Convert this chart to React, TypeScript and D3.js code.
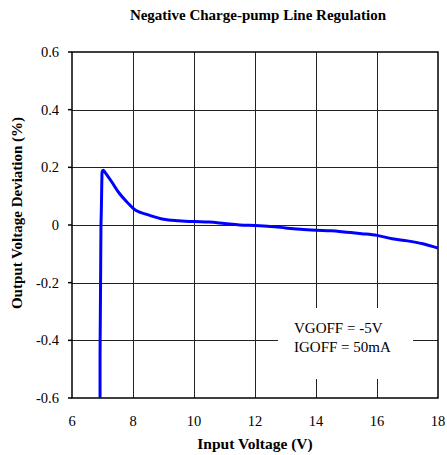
import React, { useEffect, useRef } from "react";
import * as d3 from "d3";

const inputV = [6.92, 6.92, 6.93, 6.94, 6.95, 6.96, 6.97, 6.98, 6.99, 7.02, 7.1, 7.3, 7.55, 7.8, 8.1, 8.5, 9.0, 9.5, 10.0, 10.5, 11.0, 11.5, 12.0, 12.5, 13.0, 13.5, 14.0, 14.5, 15.0, 15.5, 16.0, 16.5, 17.0, 17.5, 18.0];
const deviation = [-0.6, -0.45, -0.3, -0.15, 0.0, 0.04, 0.1, 0.16, 0.185, 0.19, 0.18, 0.15, 0.11, 0.08, 0.05, 0.035, 0.02, 0.015, 0.012, 0.01, 0.005, 0.0, -0.002, -0.005, -0.01, -0.015, -0.018, -0.02, -0.025, -0.03, -0.036, -0.048, -0.055, -0.065, -0.08];
const xTicks = [6, 8, 10, 12, 14, 16, 18];
const yTicks = [-0.6, -0.4, -0.2, 0, 0.2, 0.4, 0.6];
const noteLines = ["VGOFF = -5V", "IGOFF = 50mA"];

const W = 447, H = 455;
const m = { left: 72, right: 9, top: 52, bottom: 57 };
const serif = "'Liberation Serif', 'Times New Roman', serif";

const App = () => {
    const ref = useRef<SVGSVGElement>(null);

    useEffect(() => {
        if (!ref.current) return;
        const svg = d3.select(ref.current);
        svg.selectAll("*").remove();

        const x = d3.scaleLinear().domain([6, 18]).range([m.left, W - m.right]);
        const y = d3.scaleLinear().domain([-0.6, 0.6]).range([H - m.bottom, m.top]);

        svg.append("rect").attr("width", W).attr("height", H).attr("fill", "#fff");

        // grid
        const grid = svg.append("g").attr("stroke", "#222").attr("stroke-width", 1);
        grid.selectAll("line.v").data(xTicks.slice(1, -1)).join("line")
            .attr("class", "v")
            .attr("x1", d => Math.round(x(d)) + 0.5).attr("x2", d => Math.round(x(d)) + 0.5)
            .attr("y1", y(0.6)).attr("y2", y(-0.6));
        grid.selectAll("line.h").data(yTicks.slice(1, -1)).join("line")
            .attr("class", "h")
            .attr("x1", x(6)).attr("x2", x(18))
            .attr("y1", d => Math.round(y(d)) + 0.5).attr("y2", d => Math.round(y(d)) + 0.5);

        // frame
        svg.append("rect")
            .attr("x", x(6)).attr("y", y(0.6))
            .attr("width", x(18) - x(6)).attr("height", y(-0.6) - y(0.6))
            .attr("fill", "none").attr("stroke", "#000").attr("stroke-width", 1.5);

        // y ticks (small outward marks)
        svg.append("g").selectAll("line").data(yTicks).join("line")
            .attr("x1", x(6) - 4).attr("x2", x(6))
            .attr("y1", d => y(d)).attr("y2", d => y(d))
            .attr("stroke", "#000").attr("stroke-width", 1.5);

        // legend box
        const bx = 278, by = 308, bw = 135, bh = 71;
        svg.append("rect").attr("x", bx).attr("y", by).attr("width", bw).attr("height", bh).attr("fill", "#fff");
        svg.append("g").selectAll("text").data(noteLines).join("text")
            .attr("x", 294).attr("y", (d, i) => 333 + i * 19)
            .attr("font-family", serif).attr("font-size", 15)
            .text(d => d);

        // curve
        const pts = inputV.map((v, i) => [v, deviation[i]] as [number, number]);
        svg.append("path")
            .datum(pts)
            .attr("fill", "none").attr("stroke", "#0000ff").attr("stroke-width", 3)
            .attr("stroke-linejoin", "round").attr("stroke-linecap", "butt")
            .attr("d", d3.line<[number, number]>().x(d => x(d[0])).y(d => y(d[1])).curve(d3.curveCatmullRom.alpha(0.5)));

        // tick labels
        svg.append("g").selectAll("text").data(yTicks).join("text")
            .attr("x", 59).attr("y", d => y(d) + 5)
            .attr("text-anchor", "end")
            .attr("font-family", serif).attr("font-size", 14.5)
            .text(d => (d === 0 ? "0" : d.toFixed(1)));
        svg.append("g").selectAll("text").data(xTicks).join("text")
            .attr("x", d => x(d)).attr("y", 426)
            .attr("text-anchor", "middle")
            .attr("font-family", serif).attr("font-size", 14.5)
            .text(d => d);

        // titles
        svg.append("text")
            .attr("x", 258).attr("y", 20).attr("text-anchor", "middle")
            .attr("font-family", serif).attr("font-size", 15).attr("font-weight", "bold")
            .text("Negative Charge-pump Line Regulation");
        svg.append("text")
            .attr("x", 255).attr("y", 449).attr("text-anchor", "middle")
            .attr("font-family", serif).attr("font-size", 15.5).attr("font-weight", "bold")
            .text("Input Voltage (V)");
        svg.append("text")
            .attr("transform", `translate(22, ${y(0) - 12}) rotate(-90)`)
            .attr("text-anchor", "middle")
            .attr("font-family", serif).attr("font-size", 15).attr("font-weight", "bold")
            .text("Output Voltage Deviation (%)");
    }, []);

    return <svg ref={ref} width={W} height={H} style={{ position: "absolute", left: 0, top: 0 }}></svg>;
};

export default App;
